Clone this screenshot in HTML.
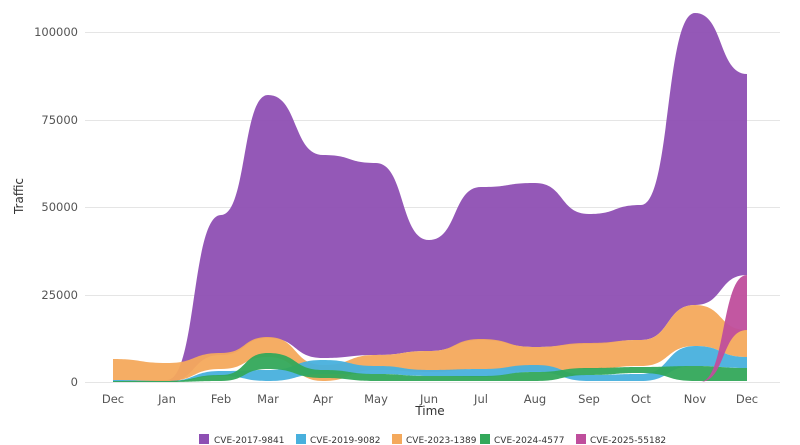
<!DOCTYPE html>
<html><head><meta charset="utf-8"><style>
html,body{margin:0;padding:0;background:#fff;}
svg{display:block;font-family:"DejaVu Sans","Liberation Sans",sans-serif;}
</style></head><body>
<svg id="s" width="800" height="445" viewBox="0 0 800 445">
<g stroke="#e5e5e5" stroke-width="1">
<line x1="85" x2="780" y1="32.5" y2="32.5"/>
<line x1="85" x2="780" y1="120.5" y2="120.5"/>
<line x1="85" x2="780" y1="207.5" y2="207.5"/>
<line x1="85" x2="780" y1="295.5" y2="295.5"/>
<line x1="85" x2="780" y1="382.5" y2="382.5"/>
</g>
<g font-size="11.5" fill="#555" text-anchor="end">
<text x="78" y="36">100000</text>
<text x="78" y="124">75000</text>
<text x="78" y="211">50000</text>
<text x="78" y="299">25000</text>
<text x="78" y="386">0</text>
</g>
<g id="areas"></g>
<g font-size="11.5" fill="#555" text-anchor="middle">
<text x="113" y="403">Dec</text><text x="167" y="403">Jan</text><text x="221" y="403">Feb</text>
<text x="268" y="403">Mar</text><text x="323" y="403">Apr</text><text x="376" y="403">May</text>
<text x="429" y="403">Jun</text><text x="481" y="403">Jul</text><text x="535" y="403">Aug</text>
<text x="589" y="403">Sep</text><text x="641" y="403">Oct</text><text x="695" y="403">Nov</text>
<text x="747" y="403">Dec</text>
</g>
<text x="430" y="415" font-size="12" fill="#333" text-anchor="middle">Time</text>
<text x="23" y="196" font-size="12" fill="#333" text-anchor="middle" transform="rotate(-90 23 196)">Traffic</text>
<g font-size="9" fill="#333">
<rect x="199" y="434" width="10" height="10" fill="#8e4fb3"/><text x="214" y="443">CVE-2017-9841</text>
<rect x="296" y="434" width="10" height="10" fill="#48b0dd"/><text x="310" y="443">CVE-2019-9082</text>
<rect x="392" y="434" width="10" height="10" fill="#f4a95c"/><text x="406" y="443">CVE-2023-1389</text>
<rect x="480" y="434" width="10" height="10" fill="#33a85a"/><text x="494" y="443">CVE-2024-4577</text>
<rect x="576" y="434" width="10" height="10" fill="#bf4e9c"/><text x="590" y="443">CVE-2025-55182</text>
</g>
</svg>
<script>
var X=[113,167,221,268,323,376,429,481,535,589,641,695,747];
var S=[
 ["#8e4fb3",[381,380,215,95,155,163,240,187,183,214,205,13,74],[382,382,355,338,358,355,351,340,347,344,340,305,275]],
 ["#f4a95c",[359,363,353,337,365,355,351,339,347,343,340,305,330],[381,381,369,357,381,370,372,369,371,369,366,346,357]],
 ["#48b0dd",[380,381,371,370,360,366,370,369,365,375,374,346,357],[382,382,376,381,374,374,376,377,372,381,381,366,368]],
 ["#33a85a",[381,381,375,353,370,374,376,376,372,368,367,366,368],[382,382,381,369,378,381,381,381,381,375,373,381,381]],
 ["#bf4e9c",[],[]]
];
function seg(xs,ys,first){var d=first?"M"+xs[0]+","+ys[0]:"L"+xs[0]+","+ys[0];
 for(var i=1;i<xs.length;i++){var dx=xs[i]-xs[i-1];
 d+=" C"+(xs[i-1]+dx*0.55)+","+ys[i-1]+" "+(xs[i]-dx*0.55)+","+ys[i]+" "+xs[i]+","+ys[i];}return d;}
var g=document.getElementById("areas"),h="";
S.forEach(function(s){
 var xs=X,t=s[1],b=s[2];
 if(s[0]=="#bf4e9c"){xs=[700,747];t=[382,275];b=[382,330];}
 var d=seg(xs,t,true)+" "+seg(xs.slice().reverse(),b.slice().reverse(),false)+"Z";
 h+='<path d="'+d+'" fill="'+s[0]+'" fill-opacity="0.95"/>';});
g.innerHTML=h;
</script>
</body></html>
